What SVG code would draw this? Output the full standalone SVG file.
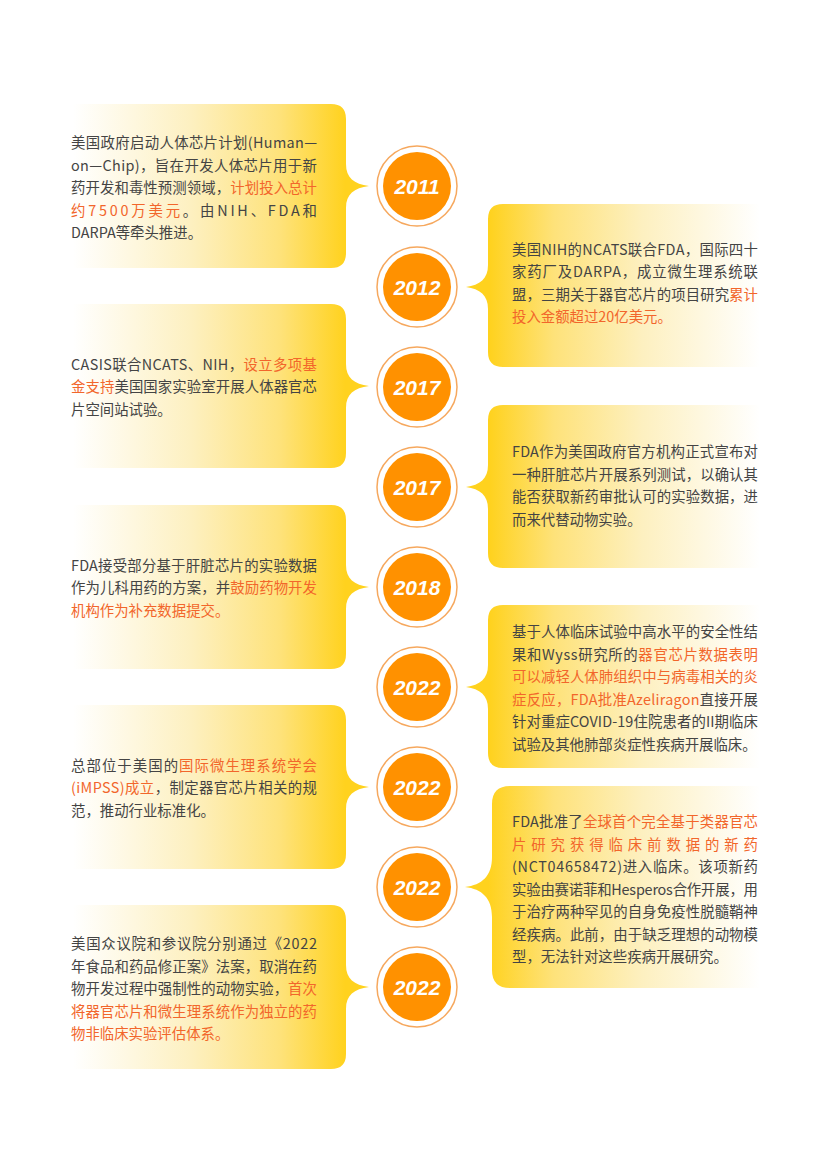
<svg xmlns="http://www.w3.org/2000/svg" width="831" height="1174" viewBox="0 0 831 1174">
<defs>
<linearGradient id="gl" x1="0" y1="0" x2="1" y2="0">
<stop offset="0" stop-color="#ffffff"/>
<stop offset="0.4" stop-color="#fdf0c0"/>
<stop offset="0.7" stop-color="#fee27a"/>
<stop offset="0.92" stop-color="#ffd21e"/>
<stop offset="1" stop-color="#ffd21e"/>
</linearGradient>
<linearGradient id="gr" x1="0" y1="0" x2="1" y2="0">
<stop offset="0" stop-color="#ffd21e"/>
<stop offset="0.08" stop-color="#ffd21e"/>
<stop offset="0.3" stop-color="#fee27a"/>
<stop offset="0.6" stop-color="#fdf0c0"/>
<stop offset="1" stop-color="#ffffff"/>
</linearGradient>
</defs>
<style>
.cl{fill:url(#gl)}
.cr{fill:url(#gr)}
.t{font-family:"Noto Sans CJK SC","Noto Sans",sans-serif;font-size:14.4px;fill:#444444}
.h{fill:#f2662b}
.ring{fill:#ffffff;stroke:#f6a85e;stroke-width:1.5}
.dot{fill:#ff9100}
.yr{font-family:"Liberation Sans",Arial,sans-serif;font-size:21px;font-weight:bold;font-style:italic;fill:#ffffff;text-anchor:middle}
</style>
<rect width="831" height="1174" fill="#ffffff"/>

<g id="card-2011">
<path class="cl" d="M73,104 H331 Q346,104 346,119 V164 C346,178 354,184 369,186 C354,188 346,194 346,208 V253 Q346,268 331,268 H73 Z"/>
<text class="t" x="71" y="148" textLength="246" lengthAdjust="spacing">美国政府启动人体芯片计划(Human—</text>
<text class="t" x="71" y="170.5" textLength="246" lengthAdjust="spacing">on—Chip)，旨在开发人体芯片用于新</text>
<text class="t" x="71" y="193" textLength="246" lengthAdjust="spacing">药开发和毒性预测领域，<tspan class="h">计划投入总计</tspan></text>
<text class="t" x="71" y="215.5" textLength="246" lengthAdjust="spacing"><tspan class="h">约7500万美元</tspan>。由NIH、FDA和</text>
<text class="t" x="71" y="238">DARPA等牵头推进。</text>
</g>

<g id="card-2012">
<path class="cr" d="M760,204 H503 Q488,204 488,219 V265 C488,279 480,285 466,287 C480,289 488,295 488,309 V352 Q488,367 503,367 H760 Z"/>
<text class="t" x="512" y="254.5" textLength="246" lengthAdjust="spacing">美国NIH的NCATS联合FDA，国际四十</text>
<text class="t" x="512" y="277" textLength="246" lengthAdjust="spacing">家药厂及DARPA，成立微生理系统联</text>
<text class="t" x="512" y="299.5" textLength="246" lengthAdjust="spacing">盟，三期关于器官芯片的项目研究<tspan class="h">累计</tspan></text>
<text class="t" x="512" y="322"><tspan class="h">投入金额超过20亿美元。</tspan></text>
</g>

<g id="card-2017a">
<path class="cl" d="M73,304 H331 Q346,304 346,319 V364 C346,378 354,384 369,386 C354,388 346,394 346,408 V453 Q346,468 331,468 H73 Z"/>
<text class="t" x="71" y="369.5" textLength="246" lengthAdjust="spacing">CASIS联合NCATS、NIH，<tspan class="h">设立多项基</tspan></text>
<text class="t" x="71" y="392" textLength="246" lengthAdjust="spacing"><tspan class="h">金支持</tspan>美国国家实验室开展人体器官芯</text>
<text class="t" x="71" y="414.5">片空间站试验。</text>
</g>

<g id="card-2017b">
<path class="cr" d="M760,405 H503 Q488,405 488,420 V465 C488,479 480,485 466,487 C480,489 488,495 488,509 V553 Q488,568 503,568 H760 Z"/>
<text class="t" x="512" y="457" textLength="246" lengthAdjust="spacing">FDA作为美国政府官方机构正式宣布对</text>
<text class="t" x="512" y="479.5" textLength="246" lengthAdjust="spacing">一种肝脏芯片开展系列测试，以确认其</text>
<text class="t" x="512" y="502" textLength="246" lengthAdjust="spacing">能否获取新药审批认可的实验数据，进</text>
<text class="t" x="512" y="524.5">而来代替动物实验。</text>
</g>

<g id="card-2018">
<path class="cl" d="M73,505 H331 Q346,505 346,520 V565 C346,579 354,585 369,587 C354,589 346,595 346,609 V654 Q346,669 331,669 H73 Z"/>
<text class="t" x="71" y="570.5" textLength="246" lengthAdjust="spacing">FDA接受部分基于肝脏芯片的实验数据</text>
<text class="t" x="71" y="593" textLength="246" lengthAdjust="spacing">作为儿科用药的方案，并<tspan class="h">鼓励药物开发</tspan></text>
<text class="t" x="71" y="615.5"><tspan class="h">机构作为补充数据提交。</tspan></text>
</g>

<g id="card-2022a">
<path class="cr" d="M760,605 H503 Q488,605 488,620 V665 C488,679 480,685 466,687 C480,689 488,695 488,709 V753 Q488,768 503,768 H760 Z"/>
<text class="t" x="512" y="637" textLength="246" lengthAdjust="spacing">基于人体临床试验中高水平的安全性结</text>
<text class="t" x="512" y="659.5" textLength="246" lengthAdjust="spacing">果和Wyss研究所的<tspan class="h">器官芯片数据表明</tspan></text>
<text class="t" x="512" y="682" textLength="246" lengthAdjust="spacing"><tspan class="h">可以减轻人体肺组织中与病毒相关的炎</tspan></text>
<text class="t" x="512" y="704.5" textLength="246" lengthAdjust="spacing"><tspan class="h">症反应，FDA批准Azeliragon</tspan>直接开展</text>
<text class="t" x="512" y="727" textLength="246" lengthAdjust="spacing">针对重症COVID-19住院患者的II期临床</text>
<text class="t" x="512" y="749.5">试验及其他肺部炎症性疾病开展临床。</text>
</g>

<g id="card-2022b">
<path class="cl" d="M73,705 H331 Q346,705 346,720 V765 C346,779 354,785 369,787 C354,789 346,795 346,809 V854 Q346,869 331,869 H73 Z"/>
<text class="t" x="71" y="770.5" textLength="246" lengthAdjust="spacing">总部位于美国的<tspan class="h">国际微生理系统学会</tspan></text>
<text class="t" x="71" y="793" textLength="246" lengthAdjust="spacing"><tspan class="h">(iMPSS)成立</tspan>，制定器官芯片相关的规</text>
<text class="t" x="71" y="815.5">范，推动行业标准化。</text>
</g>

<g id="card-2022c">
<path class="cr" d="M760,786 H510 Q492,786 492,804 V857 C492,876 482,885 465,887 C482,889 492,898 492,917 V970 Q492,988 510,988 H760 Z"/>
<text class="t" x="512" y="827" textLength="246" lengthAdjust="spacing">FDA批准了<tspan class="h">全球首个完全基于类器官芯</tspan></text>
<text class="t" x="512" y="849.5" textLength="246" lengthAdjust="spacing"><tspan class="h">片研究获得临床前数据的新药</tspan></text>
<text class="t" x="512" y="872" textLength="246" lengthAdjust="spacing">(NCT04658472)进入临床。该项新药</text>
<text class="t" x="512" y="894.5" textLength="246" lengthAdjust="spacing">实验由赛诺菲和Hesperos合作开展，用</text>
<text class="t" x="512" y="917" textLength="246" lengthAdjust="spacing">于治疗两种罕见的自身免疫性脱髓鞘神</text>
<text class="t" x="512" y="939.5" textLength="246" lengthAdjust="spacing">经疾病。此前，由于缺乏理想的动物模</text>
<text class="t" x="512" y="962">型，无法针对这些疾病开展研究。</text>
</g>

<g id="card-2022d">
<path class="cl" d="M73,905 H331 Q346,905 346,920 V965 C346,979 354,985 369,987 C354,989 346,995 346,1009 V1054 Q346,1069 331,1069 H73 Z"/>
<text class="t" x="71" y="949" textLength="246" lengthAdjust="spacing">美国众议院和参议院分别通过《2022</text>
<text class="t" x="71" y="971.5" textLength="246" lengthAdjust="spacing">年食品和药品修正案》法案，取消在药</text>
<text class="t" x="71" y="994" textLength="246" lengthAdjust="spacing">物开发过程中强制性的动物实验，<tspan class="h">首次</tspan></text>
<text class="t" x="71" y="1016.5" textLength="246" lengthAdjust="spacing"><tspan class="h">将器官芯片和微生理系统作为独立的药</tspan></text>
<text class="t" x="71" y="1039"><tspan class="h">物非临床实验评估体系。</tspan></text>
</g>

<g id="year-2011"><circle class="ring" cx="417" cy="186" r="40"/><circle class="dot" cx="417" cy="186" r="34"/><text class="yr" x="417" y="193.5">2011</text></g>
<g id="year-2012"><circle class="ring" cx="417" cy="287" r="40"/><circle class="dot" cx="417" cy="287" r="34"/><text class="yr" x="417" y="294.5">2012</text></g>
<g id="year-2017a"><circle class="ring" cx="417" cy="387" r="40"/><circle class="dot" cx="417" cy="387" r="34"/><text class="yr" x="417" y="394.5">2017</text></g>
<g id="year-2017b"><circle class="ring" cx="417" cy="487" r="40"/><circle class="dot" cx="417" cy="487" r="34"/><text class="yr" x="417" y="494.5">2017</text></g>
<g id="year-2018"><circle class="ring" cx="417" cy="587" r="40"/><circle class="dot" cx="417" cy="587" r="34"/><text class="yr" x="417" y="594.5">2018</text></g>
<g id="year-2022a"><circle class="ring" cx="417" cy="687" r="40"/><circle class="dot" cx="417" cy="687" r="34"/><text class="yr" x="417" y="694.5">2022</text></g>
<g id="year-2022b"><circle class="ring" cx="417" cy="787" r="40"/><circle class="dot" cx="417" cy="787" r="34"/><text class="yr" x="417" y="794.5">2022</text></g>
<g id="year-2022c"><circle class="ring" cx="417" cy="887" r="40"/><circle class="dot" cx="417" cy="887" r="34"/><text class="yr" x="417" y="894.5">2022</text></g>
<g id="year-2022d"><circle class="ring" cx="417" cy="987" r="40"/><circle class="dot" cx="417" cy="987" r="34"/><text class="yr" x="417" y="994.5">2022</text></g>
</svg>
